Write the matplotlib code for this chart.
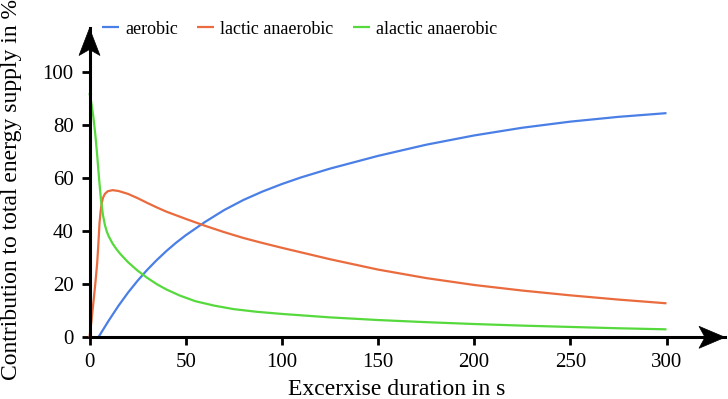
import matplotlib
matplotlib.use("Agg")
import matplotlib.pyplot as plt
from matplotlib.patches import Polygon

plt.rcParams['font.family'] = ['Liberation Serif', 'DejaVu Serif']

# ---- data ----
aerobic_x = [4.6, 10, 15, 20, 25, 30, 35, 40, 45, 50, 60, 70, 80, 90, 100,
             110, 125, 150, 175, 200, 225, 250, 275, 300]
aerobic_y = [0, 6.3, 11.8, 16.8, 21.3, 25.4, 29.1, 32.5, 35.6, 38.4, 43.4,
             47.9, 51.7, 54.9, 57.7, 60.2, 63.5, 68.3, 72.5, 76.0, 78.9,
             81.2, 83.0, 84.4]

lactic_x = [0, 1, 2, 3, 4, 4.6, 5.2, 5.8, 6.3, 7, 8, 9.5, 12, 15, 20, 25, 30,
            35, 40, 50, 60, 70, 80, 90, 100, 125, 150, 175, 200, 225, 250,
            275, 300]
lactic_y = [0, 6, 13, 20, 28, 35, 43, 47.5, 50.3, 52.5, 54, 55, 55.4, 55.1,
            54.0, 52.4, 50.6, 48.9, 47.3, 44.6, 42.0, 39.6, 37.4, 35.5, 33.7,
            29.4, 25.5, 22.3, 19.7, 17.6, 15.8, 14.2, 12.8]

alactic_x = [0, 1, 2, 3, 4, 5, 6, 7, 8, 9, 10, 12, 14, 16, 20, 25, 30, 35,
             40, 47, 55, 65, 75, 87, 100, 125, 150, 175, 200, 225, 250, 275,
             300]
alactic_y = [92, 88, 83, 76.5, 68.5, 59.5, 51.5, 46, 42.3, 39.8, 38, 35.3,
             33.2, 31.4, 28.3, 25.1, 22.4, 20.0, 18.0, 15.7, 13.6, 11.9, 10.6,
             9.6, 8.8, 7.5, 6.5, 5.7, 5.0, 4.4, 3.9, 3.4, 3.0]

series_names = ['aerobic', 'lactic anaerobic', 'alactic anaerobic']
series_colors = ['#4a7fe6', '#ea6b3d', '#55d93c']
x_ticks = [0, 50, 100, 150, 200, 250, 300]
y_ticks = [0, 20, 40, 60, 80, 100]
x_label = 'Excerxise duration in s'
y_label = 'Contribution to total energy supply in %'

W, H = 728, 399
fig = plt.figure(figsize=(W / 100, H / 100), dpi=100)

x0px, x300px, xtip = 89.5, 666.5, 725
y0px, y100px, ytip = 337.3, 71.7, 28.3
ax = fig.add_axes([x0px / W, (H - y0px) / H, (xtip - x0px) / W, (y0px - ytip) / H])
ax.set_xlim(0, (xtip - x0px) / ((x300px - x0px) / 300))
ax.set_ylim(0, (y0px - ytip) / ((y0px - y100px) / 100))
ax.patch.set_alpha(0)

for xs, ys, name, c in zip([aerobic_x, lactic_x, alactic_x],
                           [aerobic_y, lactic_y, alactic_y],
                           series_names, series_colors):
    ax.plot(xs, ys, color=c, lw=1.6, label=name, solid_capstyle='butt',
            solid_joinstyle='round', clip_on=False)

for s in ['top', 'right']:
    ax.spines[s].set_visible(False)
for s in ['left', 'bottom']:
    ax.spines[s].set_linewidth(2.2)
    ax.spines[s].set_color('black')
ax.set_xticks(x_ticks)
ax.set_yticks(y_ticks)
ax.tick_params(direction='out', length=6, width=2.0, labelsize=15, pad=5.5, color='black')

# arrowheads (figure pixel coords)
def fpoly(pts):
    return Polygon([(px / W, 1 - py / H) for px, py in pts], closed=True,
                   transform=fig.transFigure, facecolor='black', edgecolor='black',
                   lw=0.5)
fig.patches.append(fpoly([(xtip, y0px), (699, y0px - 11), (705, y0px), (699, y0px + 11)]))
fig.patches.append(fpoly([(x0px, ytip), (x0px - 10.5, 55.5), (x0px, 49.5), (x0px + 10.5, 55.5)]))

fig.text(397 / W, 4 / H, x_label, ha='center', va='baseline', fontsize=17)
fig.text(11.5 / W, 1 - 189 / H, y_label, rotation=90, ha='center', va='center', fontsize=17)

leg = fig.legend(loc='center left', bbox_to_anchor=(101.7 / W, 1 - 29 / H), ncol=3,
                 frameon=False, fontsize=13, handlelength=0.95, handletextpad=0.35,
                 columnspacing=1.05, borderpad=0, borderaxespad=0)
for h in leg.get_lines():
    h.set_linewidth(1.6)

fig.savefig('out.png', dpi=100)
